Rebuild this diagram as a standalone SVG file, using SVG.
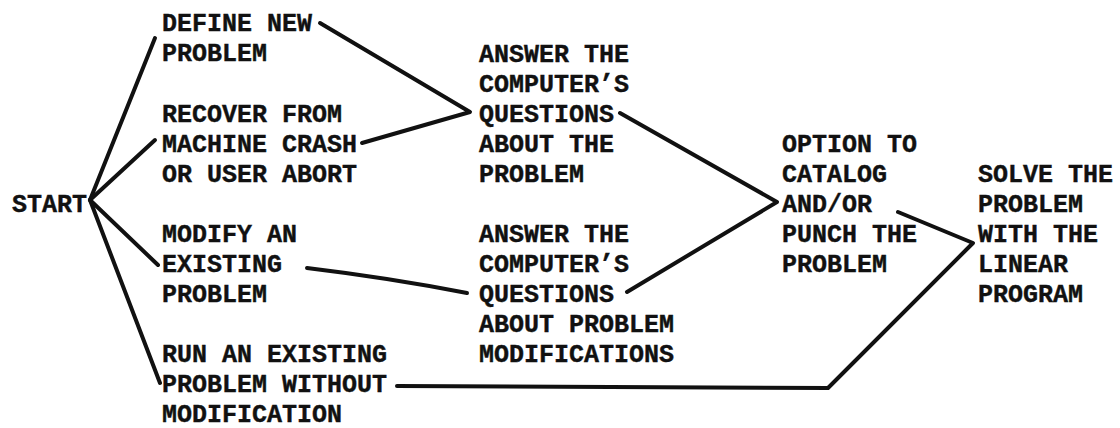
<svg xmlns="http://www.w3.org/2000/svg" width="1120" height="428" viewBox="0 0 1120 428">
<style>
text{font-family:"Liberation Mono","DejaVu Sans Mono",monospace;font-weight:bold;font-size:25px;fill:#111;stroke:#111;stroke-width:0.4}
.c{fill:none;stroke:#111;stroke-width:4;stroke-linecap:round;stroke-linejoin:round}
</style>
<rect width="1120" height="428" fill="#fff"/>
<g id="connectors">
<path class="c" d="M90,200 L155,38"/>
<path class="c" d="M90,200 L155,140"/>
<path class="c" d="M90,200 L158,265"/>
<path class="c" d="M90,200 L160,383"/>
<path class="c" d="M320,23 L470,112 L362,143"/>
<path class="c" d="M620,113 L777,202 L627,292"/>
<path class="c" d="M307,268 Q390,278 467,293"/>
<path class="c" d="M898,212 L973,243 L828,388 L397,386"/>
</g>
<g id="start"><text x="12" y="212">START</text></g>
<g id="define"><text x="162" y="31">DEFINE NEW</text><text x="162" y="61">PROBLEM</text></g>
<g id="recover"><text x="162" y="122">RECOVER FROM</text><text x="162" y="152">MACHINE CRASH</text><text x="162" y="182">OR USER ABORT</text></g>
<g id="modify"><text x="162" y="242">MODIFY AN</text><text x="162" y="272">EXISTING</text><text x="162" y="302">PROBLEM</text></g>
<g id="run"><text x="162" y="362">RUN AN EXISTING</text><text x="162" y="392">PROBLEM WITHOUT</text><text x="162" y="422">MODIFICATION</text></g>
<g id="answer1"><text x="479" y="62">ANSWER THE</text><text x="479" y="92">COMPUTER’S</text><text x="479" y="122">QUESTIONS</text><text x="479" y="152">ABOUT THE</text><text x="479" y="182">PROBLEM</text></g>
<g id="answer2"><text x="479" y="242">ANSWER THE</text><text x="479" y="272">COMPUTER’S</text><text x="479" y="302">QUESTIONS</text><text x="479" y="332">ABOUT PROBLEM</text><text x="479" y="362">MODIFICATIONS</text></g>
<g id="option"><text x="782" y="152">OPTION TO</text><text x="782" y="182">CATALOG</text><text x="782" y="212">AND/OR</text><text x="782" y="242">PUNCH THE</text><text x="782" y="272">PROBLEM</text></g>
<g id="solve"><text x="978" y="182">SOLVE THE</text><text x="978" y="212">PROBLEM</text><text x="978" y="242">WITH THE</text><text x="978" y="272">LINEAR</text><text x="978" y="302">PROGRAM</text></g>
</svg>
